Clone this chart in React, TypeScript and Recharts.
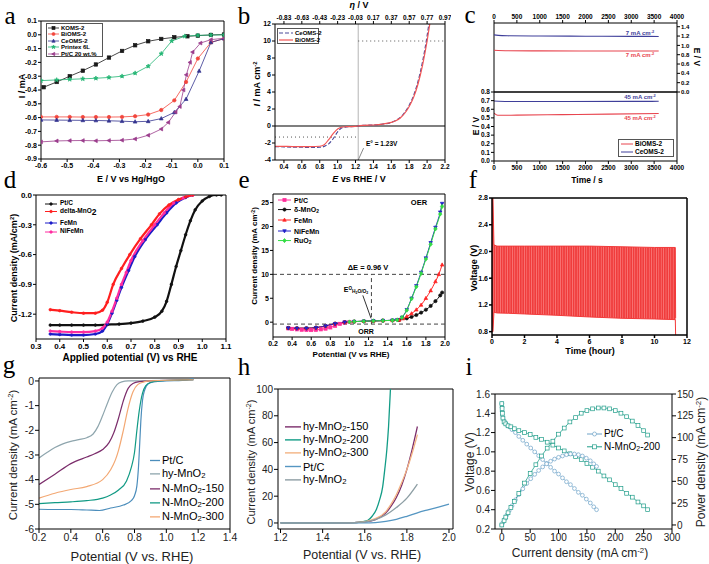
import React from "react";
import { Area, ComposedChart, Line, LineChart, ReferenceLine, XAxis, YAxis } from "recharts";

type Pt = [number, number];
type Shape = "square" | "circle" | "tri" | "triDown" | "triLeft" | "star" | "diamond";

const SANS = "'Liberation Sans', Arial, sans-serif";
const SERIF = "'Liberation Serif', 'Times New Roman', serif";

// ---------- a: ORR curves vs Hg/HgO
const aKoms: Pt[] = [[-0.59, -0.38], [-0.54, -0.342], [-0.49, -0.3], [-0.44, -0.26], [-0.39, -0.215], [-0.34, -0.165], [-0.29, -0.117], [-0.24, -0.076], [-0.19, -0.047], [-0.14, -0.03], [-0.09, -0.018], [-0.04, -0.011], [0, -0.006], [0.05, -0.001], [0.1, 0.002]];
const aBioms: Pt[] = [[-0.6, -0.595], [-0.54, -0.595], [-0.49, -0.595], [-0.44, -0.596], [-0.39, -0.596], [-0.34, -0.596], [-0.29, -0.595], [-0.24, -0.59], [-0.19, -0.578], [-0.14, -0.545], [-0.09, -0.475], [-0.045, -0.342], [0, -0.172], [0.05, -0.055], [0.1, -0.028]];
const aCeoms: Pt[] = [[-0.6, -0.617], [-0.54, -0.618], [-0.49, -0.619], [-0.44, -0.62], [-0.39, -0.621], [-0.34, -0.623], [-0.29, -0.626], [-0.24, -0.63], [-0.19, -0.627], [-0.14, -0.607], [-0.09, -0.562], [-0.045, -0.466], [0.005, -0.262], [0.05, -0.055], [0.1, -0.028]];
const aPrintex: Pt[] = [[-0.6, -0.332], [-0.54, -0.327], [-0.49, -0.323], [-0.44, -0.319], [-0.39, -0.315], [-0.34, -0.309], [-0.29, -0.3], [-0.24, -0.278], [-0.19, -0.228], [-0.14, -0.137], [-0.1, -0.045], [-0.05, -0.01], [0, -0.004], [0.05, -0.002], [0.1, -0.001]];
const aPtc: Pt[] = [[-0.6, -0.776], [-0.54, -0.769], [-0.49, -0.767], [-0.44, -0.766], [-0.39, -0.768], [-0.34, -0.766], [-0.29, -0.764], [-0.24, -0.755], [-0.19, -0.728], [-0.14, -0.683], [-0.113, -0.635], [-0.085, -0.56], [-0.069, -0.52], [-0.055, -0.4], [-0.044, -0.29], [-0.03, -0.2], [-0.02, -0.125], [0.01, -0.06], [0.05, -0.035], [0.1, -0.025]];
const aXTicks = [-0.6, -0.5, -0.4, -0.3, -0.2, -0.1, 0, 0.1];
const aYTicks = [0.1, 0, -0.1, -0.2, -0.3, -0.4, -0.5, -0.6, -0.7, -0.8, -0.9];

// ---------- b: bifunctional LSV vs RHE
const bBioms: Pt[] = [[0.3, -2.38], [0.4, -2.4], [0.5, -2.42], [0.6, -2.42], [0.7, -2.42], [0.8, -2.38], [0.85, -2.2], [0.9, -1.6], [0.95, -0.9], [1.0, -0.35], [1.05, -0.12], [1.1, -0.08], [1.2, -0.05], [1.25, 0.05], [1.3, 0.08], [1.4, 0.12], [1.5, 0.22], [1.6, 0.42], [1.65, 0.62], [1.7, 0.95], [1.75, 1.5], [1.8, 2.3], [1.85, 3.4], [1.9, 5.0], [1.95, 7.2], [2.0, 10.0], [2.03, 12]];
const bCeoms: Pt[] = [[0.3, -2.42], [0.4, -2.45], [0.5, -2.48], [0.6, -2.5], [0.7, -2.52], [0.8, -2.5], [0.85, -2.4], [0.9, -2.1], [0.95, -1.5], [1.0, -0.7], [1.05, -0.2], [1.1, -0.1], [1.2, -0.05], [1.25, 0.05], [1.3, 0.08], [1.4, 0.12], [1.5, 0.22], [1.6, 0.42], [1.65, 0.65], [1.7, 1.0], [1.75, 1.6], [1.8, 2.45], [1.85, 3.6], [1.9, 5.3], [1.95, 7.6], [2.0, 10.6], [2.02, 12]];
const bXTicks = [0.4, 0.6, 0.8, 1.0, 1.2, 1.4, 1.6, 1.8, 2.0, 2.2];
const bYTicks = [-4, -2, 0, 2, 4, 6, 8, 10, 12];
const E_REV = 1.23;

// ---------- c: chronopotentiometry
const cTopBi: Pt[] = [[0, 0.895], [300, 0.885], [1000, 0.882], [2000, 0.88], [3000, 0.879], [3600, 0.878]];
const cTopCe: Pt[] = [[0, 1.225], [300, 1.205], [1000, 1.2], [2000, 1.197], [3000, 1.194], [3600, 1.192]];
const cBotBi: Pt[] = [[0, 0.555], [80, 0.53], [500, 0.532], [1500, 0.538], [2500, 0.544], [3600, 0.55]];
const cBotCe: Pt[] = [[0, 0.695], [300, 0.69], [1500, 0.69], [3000, 0.691], [3600, 0.692]];
const cXTicks = [0, 500, 1000, 1500, 2000, 2500, 3000, 3500, 4000];
const cTopTicks = [0, 0.2, 0.4, 0.6, 0.8, 1.0, 1.2, 1.4];
const cBotTicks = [0, 0.1, 0.2, 0.3, 0.4, 0.5, 0.6, 0.7, 0.8];

// ---------- d: ORR of MnO2 catalysts
const dPtc: Pt[] = [[0.36, -1.31], [0.4, -1.31], [0.45, -1.31], [0.5, -1.31], [0.55, -1.31], [0.6, -1.305], [0.65, -1.3], [0.7, -1.29], [0.75, -1.27], [0.8, -1.23], [0.83, -1.17], [0.85, -1.07], [0.87, -0.9], [0.89, -0.72], [0.91, -0.56], [0.93, -0.4], [0.95, -0.26], [0.97, -0.15], [1.0, -0.06], [1.03, -0.015], [1.06, 0], [1.08, 0]];
const dDelta: Pt[] = [[0.36, -1.155], [0.4, -1.165], [0.45, -1.18], [0.5, -1.19], [0.55, -1.19], [0.58, -1.16], [0.6, -1.08], [0.625, -0.9], [0.66, -0.74], [0.695, -0.6], [0.74, -0.44], [0.786, -0.3], [0.82, -0.19], [0.86, -0.1], [0.9, -0.045], [0.93, -0.02], [0.96, 0]];
const dFemn: Pt[] = [[0.36, -1.4], [0.4, -1.405], [0.45, -1.41], [0.5, -1.41], [0.55, -1.4], [0.58, -1.37], [0.6, -1.3], [0.62, -1.19], [0.64, -1.06], [0.66, -0.93], [0.69, -0.76], [0.716, -0.62], [0.76, -0.45], [0.81, -0.3], [0.85, -0.18], [0.89, -0.08], [0.93, -0.025], [0.96, 0]];
const dNifemn: Pt[] = [[0.36, -1.37], [0.4, -1.375], [0.45, -1.38], [0.5, -1.38], [0.55, -1.37], [0.58, -1.34], [0.6, -1.28], [0.62, -1.17], [0.64, -1.04], [0.66, -0.9], [0.68, -0.78], [0.7, -0.66], [0.75, -0.46], [0.8, -0.3], [0.84, -0.18], [0.88, -0.08], [0.92, -0.03], [0.96, 0]];
const dXTicks = [0.3, 0.4, 0.5, 0.6, 0.7, 0.8, 0.9, 1.0, 1.1];
const dYTicks = [0, -0.3, -0.6, -0.9, -1.2];

// ---------- e: ORR + OER window
const ePtc: Pt[] = [[0.36, -1.3], [0.4, -1.4], [0.45, -1.5], [0.5, -1.58], [0.55, -1.63], [0.6, -1.65], [0.65, -1.6], [0.7, -1.5], [0.75, -1.35], [0.8, -1.1], [0.85, -0.75], [0.9, -0.35], [0.95, -0.08], [1.0, 0.05]];
const eDelta: Pt[] = [[0.36, -1.2], [0.45, -1.25], [0.55, -1.25], [0.65, -1.12], [0.75, -0.78], [0.85, -0.3], [0.95, 0], [1.05, 0.12], [1.15, 0.2], [1.25, 0.26], [1.35, 0.32], [1.45, 0.38], [1.52, 0.45], [1.6, 0.8], [1.65, 1.1], [1.7, 1.5], [1.75, 2.0], [1.8, 2.6], [1.85, 3.4], [1.9, 4.4], [1.95, 5.6], [1.97, 6.2]];
const eFemn: Pt[] = [[0.36, -1.22], [0.45, -1.27], [0.55, -1.27], [0.65, -1.15], [0.75, -0.8], [0.85, -0.32], [0.95, 0], [1.05, 0.12], [1.15, 0.2], [1.25, 0.26], [1.35, 0.32], [1.45, 0.38], [1.52, 0.48], [1.56, 0.75], [1.6, 1.2], [1.65, 1.8], [1.7, 2.6], [1.75, 3.6], [1.8, 5.0], [1.85, 6.6], [1.9, 8.5], [1.935, 10], [1.97, 12]];
const eNifemn: Pt[] = [[0.36, -1.25], [0.45, -1.3], [0.55, -1.3], [0.65, -1.18], [0.75, -0.82], [0.85, -0.33], [0.95, 0], [1.05, 0.12], [1.15, 0.2], [1.25, 0.27], [1.35, 0.33], [1.45, 0.4], [1.5, 0.5], [1.55, 1.0], [1.6, 2.6], [1.65, 5.0], [1.7, 7.6], [1.75, 10.4], [1.8, 13.4], [1.85, 16.6], [1.9, 19.8], [1.95, 23.0], [1.97, 24.8]];
const eRuo2: Pt[] = [[1.0, 0.05], [1.05, 0.12], [1.15, 0.2], [1.25, 0.26], [1.35, 0.32], [1.45, 0.38], [1.5, 0.48], [1.55, 1.0], [1.6, 2.5], [1.65, 4.9], [1.7, 7.4], [1.75, 10.2], [1.8, 13.2], [1.85, 16.3], [1.9, 19.5], [1.95, 22.6], [1.97, 24.2]];
const eXTicks = [0.2, 0.4, 0.6, 0.8, 1.0, 1.2, 1.4, 1.6, 1.8, 2.0];
const eYTicks = [0, 5, 10, 15, 20, 25];

// ---------- f: zinc-air cycling envelope
const fTime = [0, 0.06, 0.12, 0.3, 1, 2, 4, 6, 8, 10, 11.28, 11.3];
const fHigh = [2.8, 2.8, 2.1, 2.08, 2.08, 2.08, 2.08, 2.08, 2.07, 2.06, 2.06, 1.0];
const fLow = [0.8, 0.8, 1.09, 1.08, 1.075, 1.065, 1.045, 1.02, 1.0, 0.99, 0.98, 0.75];
const fXTicks = [0, 2, 4, 6, 8, 10, 12];
const fYTicks = [0.8, 1.2, 1.6, 2.0, 2.4, 2.8];

// ---------- g: ORR of N-MnO2
const gPtc: Pt[] = [[0.2, -5.2], [0.3, -5.21], [0.4, -5.21], [0.5, -5.23], [0.58, -5.25], [0.65, -5.15], [0.73, -5.03], [0.78, -4.85], [0.8, -4.65], [0.815, -4.25], [0.825, -3.5], [0.833, -2.5], [0.84, -1.6], [0.85, -0.8], [0.865, -0.35], [0.885, -0.12], [0.92, -0.04], [1.0, 0], [1.1, 0.02], [1.17, 0.1]];
const gHy: Pt[] = [[0.2, -3.12], [0.25, -2.9], [0.3, -2.7], [0.35, -2.55], [0.4, -2.45], [0.45, -2.38], [0.5, -2.3], [0.54, -2.15], [0.57, -1.85], [0.6, -1.4], [0.63, -0.9], [0.66, -0.45], [0.69, -0.15], [0.72, -0.04], [0.76, 0], [0.9, 0.01], [1.17, 0.05]];
const gN150: Pt[] = [[0.2, -4.2], [0.3, -3.78], [0.4, -3.35], [0.5, -3.08], [0.55, -2.95], [0.6, -2.78], [0.64, -2.5], [0.67, -2.1], [0.7, -1.5], [0.73, -0.8], [0.76, -0.3], [0.79, -0.1], [0.83, -0.03], [0.9, 0], [1.17, 0.05]];
const gN200: Pt[] = [[0.2, -4.97], [0.3, -4.93], [0.4, -4.9], [0.5, -4.85], [0.6, -4.75], [0.65, -4.62], [0.7, -4.42], [0.75, -4.05], [0.78, -3.5], [0.8, -2.9], [0.815, -2.0], [0.83, -1.2], [0.85, -0.5], [0.87, -0.2], [0.9, -0.06], [0.95, 0], [1.17, 0.05]];
const gN300: Pt[] = [[0.2, -4.75], [0.3, -4.55], [0.4, -4.4], [0.5, -4.28], [0.6, -4.0], [0.65, -3.6], [0.68, -3.2], [0.7, -2.8], [0.73, -2.0], [0.76, -1.1], [0.79, -0.45], [0.82, -0.15], [0.86, -0.04], [0.9, 0], [1.17, 0.05]];
const gXTicks = [0.2, 0.4, 0.6, 0.8, 1.0, 1.2, 1.4];
const gYTicks = [0, -1, -2, -3, -4, -5, -6];

// ---------- h: OER of hy-MnO2
const hH150: Pt[] = [[1.2, 0], [1.4, 0], [1.5, 0.1], [1.55, 0.3], [1.6, 0.8], [1.65, 2.5], [1.7, 7.5], [1.725, 12.5], [1.75, 19], [1.775, 28], [1.8, 40], [1.825, 55], [1.85, 72]];
const hH200: Pt[] = [[1.2, 0], [1.4, 0], [1.55, 0.2], [1.59, 1.0], [1.615, 2.0], [1.635, 5], [1.655, 10], [1.67, 17], [1.685, 27], [1.695, 40], [1.705, 55], [1.713, 72], [1.722, 100]];
const hH300: Pt[] = [[1.2, 0], [1.4, 0], [1.5, 0.1], [1.55, 0.3], [1.6, 1.0], [1.65, 3.2], [1.7, 8.5], [1.725, 14], [1.75, 21], [1.775, 30], [1.8, 40], [1.825, 52], [1.85, 66]];
const hPtc: Pt[] = [[1.2, 0], [1.4, 0], [1.6, 0.1], [1.65, 0.3], [1.7, 1.2], [1.75, 2.7], [1.8, 5.0], [1.85, 7.6], [1.9, 9.8], [1.95, 11.9], [2.0, 14]];
const hHy: Pt[] = [[1.2, 0], [1.4, 0], [1.55, 0.2], [1.6, 0.8], [1.65, 2.5], [1.7, 6], [1.75, 11.5], [1.8, 18.5], [1.85, 29]];
const hXTicks = [1.2, 1.4, 1.6, 1.8, 2.0];
const hYTicks = [0, 20, 40, 60, 80, 100];

// ---------- i: polarisation and power curves
const iPtcV: Pt[] = [[0, 1.5], [0.3, 1.46], [0.6, 1.42], [1, 1.38], [2, 1.35], [4, 1.32], [6, 1.3], [9, 1.28], [13, 1.26], [18, 1.23], [24, 1.2], [30, 1.16], [37, 1.12], [44, 1.08], [51, 1.04], [58, 1.0], [65, 0.96], [72, 0.92], [79, 0.88], [86, 0.84], [93, 0.8], [100, 0.77], [107, 0.73], [114, 0.69], [121, 0.66], [128, 0.62], [135, 0.58], [142, 0.55], [149, 0.51], [156, 0.47], [162, 0.43], [167, 0.4]];
const iPtcP: Pt[] = [[0, 0], [2, 2.7], [5, 6.6], [9, 11.5], [13, 16.4], [18, 22], [24, 28.8], [30, 34.8], [37, 41.4], [44, 47.5], [51, 53], [58, 58], [65, 62.4], [72, 66.5], [79, 70], [86, 73], [93, 75.5], [100, 77.5], [107, 79], [114, 80.5], [121, 81.3], [128, 81.3], [135, 80.5], [142, 79], [149, 76.5], [156, 73.5], [162, 70], [167, 67]];
const iNV: Pt[] = [[0, 1.5], [0.5, 1.45], [1, 1.4], [2, 1.35], [4, 1.31], [7, 1.29], [11, 1.27], [16, 1.26], [22, 1.24], [30, 1.22], [40, 1.2], [50, 1.18], [60, 1.15], [70, 1.13], [80, 1.1], [90, 1.07], [100, 1.04], [110, 1.01], [120, 0.98], [130, 0.95], [140, 0.92], [150, 0.88], [160, 0.84], [170, 0.8], [180, 0.75], [190, 0.71], [200, 0.66], [210, 0.62], [220, 0.57], [230, 0.53], [240, 0.48], [250, 0.44], [257, 0.4]];
const iNP: Pt[] = [[0, 0], [4, 5], [7, 9], [11, 14], [16, 20], [22, 27], [30, 36], [40, 48], [50, 59], [60, 69], [70, 79], [80, 88], [90, 96], [100, 104], [110, 111], [120, 118], [130, 123], [140, 128], [150, 131], [160, 133], [170, 134], [180, 134], [190, 133], [200, 131], [210, 128], [220, 124], [230, 119], [240, 114], [250, 108], [257, 103]];
const iXTicks = [0, 50, 100, 150, 200, 250, 300];
const iVTicks = [0.2, 0.4, 0.6, 0.8, 1.0, 1.2, 1.4, 1.6];
const iPTicks = [0, 25, 50, 75, 100, 125, 150];

// ---------------- helpers
const xy = (p: Pt[]) => p.map(([x, y]) => ({ x, y }));
const f1 = (v: number) => v.toFixed(1);

function Mark({ shape, cx, cy, r, color, fill }: any) {
  if (cx == null || cy == null) return null;
  const c = { fill: fill ?? color, stroke: color, strokeWidth: 0.7 };
  switch (shape as Shape) {
    case "square":
      return <rect x={cx - r} y={cy - r} width={2 * r} height={2 * r} {...c} />;
    case "circle":
      return <circle cx={cx} cy={cy} r={r} {...c} />;
    case "tri":
      return <polygon points={`${cx},${cy - r * 1.2} ${cx - r * 1.1},${cy + r * 0.8} ${cx + r * 1.1},${cy + r * 0.8}`} {...c} />;
    case "triDown":
      return <polygon points={`${cx},${cy + r * 1.2} ${cx - r * 1.1},${cy - r * 0.8} ${cx + r * 1.1},${cy - r * 0.8}`} {...c} />;
    case "triLeft":
      return <polygon points={`${cx - r * 1.2},${cy} ${cx + r * 0.8},${cy - r * 1.1} ${cx + r * 0.8},${cy + r * 1.1}`} {...c} />;
    case "diamond":
      return <polygon points={`${cx},${cy - r * 1.3} ${cx + r * 1.1},${cy} ${cx},${cy + r * 1.3} ${cx - r * 1.1},${cy}`} {...c} />;
    case "star": {
      const pts: string[] = [];
      for (let i = 0; i < 10; i++) {
        const a = -Math.PI / 2 + (i * Math.PI) / 5;
        const rr = i % 2 ? r * 0.55 : r * 1.35;
        pts.push(`${cx + rr * Math.cos(a)},${cy + rr * Math.sin(a)}`);
      }
      return <polygon points={pts.join(" ")} {...c} />;
    }
  }
  return null;
}

const dots = (shape: Shape, color: string, r: number, fill?: string) => (p: any) => (
  <Mark key={`m${p.index}`} shape={shape} cx={p.cx} cy={p.cy} r={r} color={color} fill={fill} />
);

type Series = {
  name: string; pts: Pt[]; color: string; shape?: Shape; r?: number; fill?: string;
  width?: number; dash?: string; xAxisId?: string | number; yAxisId?: string | number; curve?: "linear" | "monotone";
};

function lines(list: Series[]) {
  return list.map((s) => (
    <Line
      key={s.name + (s.yAxisId ?? "")}
      data={xy(s.pts)}
      dataKey="y"
      type={s.curve ?? "monotone"}
      stroke={s.color}
      strokeWidth={s.width ?? 1}
      strokeDasharray={s.dash}
      dot={s.shape ? dots(s.shape, s.color, s.r ?? 2, s.fill) : false}
      activeDot={false}
      xAxisId={s.xAxisId ?? 0}
      yAxisId={s.yAxisId ?? 0}
      isAnimationActive={false}
    />
  ));
}

const axis = (size: number, bold = true, sw = 1, ts = 3, color = "#000") => ({
  type: "number" as const,
  allowDataOverflow: true,
  interval: 0 as const,
  tickSize: ts,
  tickMargin: 1,
  tick: { fontSize: size, fontWeight: bold ? 700 : 400, fill: color, fontFamily: SANS },
  axisLine: { stroke: "#000", strokeWidth: sw },
  tickLine: { stroke: "#000", strokeWidth: sw },
});

const Sup = ({ children }: any) => <span style={{ fontSize: "0.65em", verticalAlign: "0.5em" }}>{children}</span>;
const Sub = ({ children }: any) => <span style={{ fontSize: "0.7em", verticalAlign: "-0.2em" }}>{children}</span>;

function Txt({ x, y, size = 9, bold = true, rot = 0, color = "#000", anchor = "middle", font = SANS, children }: any) {
  const tx = anchor === "middle" ? "-50%" : anchor === "end" ? "-100%" : "0";
  return (
    <div
      style={{
        position: "absolute", left: x, top: y, transform: `translate(${tx}, -50%) rotate(${rot}deg)`,
        fontSize: size, fontWeight: bold ? 700 : 400, fontFamily: font, color, whiteSpace: "nowrap", lineHeight: 1,
      }}
    >
      {children}
    </div>
  );
}

type Entry = { label: React.ReactNode; color: string; shape?: Shape; dash?: string; fill?: string; sw?: number };

function KeyList({ x, ys, items, lineW, size, bold = true, r = 1.8, gap = 2 }: any) {
  return (
    <>
      {(items as Entry[]).map((it, i) => (
        <div
          key={i}
          style={{
            position: "absolute", left: x, top: ys[i], transform: "translateY(-50%)", display: "flex", alignItems: "center",
            fontFamily: SANS, fontSize: size, fontWeight: bold ? 700 : 400, whiteSpace: "nowrap", lineHeight: 1,
          }}
        >
          <svg width={lineW} height={8} style={{ overflow: "visible", marginRight: gap }}>
            <line x1={0} y1={4} x2={lineW} y2={4} stroke={it.color} strokeWidth={it.sw ?? 1} strokeDasharray={it.dash} />
            {it.shape && <Mark shape={it.shape} cx={lineW / 2} cy={4} r={r} color={it.color} fill={it.fill} />}
          </svg>
          <span>{it.label}</span>
        </div>
      ))}
    </>
  );
}

const Frame = ({ x, y, w, h }: any) => (
  <div style={{ position: "absolute", left: x, top: y, width: w, height: h, border: "0.6px solid #555", boxSizing: "border-box" }} />
);

const at = (left: number, top: number): React.CSSProperties => ({ position: "absolute", left, top });

// ---------------- panels
const aSeries: Series[] = [
  { name: "KOMS-2", pts: aKoms, color: "#1a1a1a", shape: "square", curve: "linear" },
  { name: "BiOMS-2", pts: aBioms, color: "#f2463c", shape: "circle", curve: "linear" },
  { name: "CeOMS-2", pts: aCeoms, color: "#34348f", shape: "tri", curve: "linear" },
  { name: "Printex 6L", pts: aPrintex, color: "#22b573", shape: "star", curve: "linear" },
  { name: "Pt/C 20 wt.%", pts: aPtc, color: "#9b3c8c", shape: "triLeft", curve: "linear" },
];

function PanelA() {
  return (
    <div style={at(7, 17)}>
      <LineChart width={227} height={156} margin={{ top: 4, right: 10, bottom: 0, left: 0 }}>
        <XAxis {...axis(7)} dataKey="x" domain={[-0.6, 0.1]} ticks={aXTicks} tickFormatter={f1} height={14} />
        <YAxis {...axis(7)} domain={[-0.9, 0.1]} ticks={aYTicks} tickFormatter={f1} width={34} />
        <ReferenceLine y={0.1} stroke="#000" />
        <ReferenceLine x={0.1} stroke="#000" />
        {lines(aSeries.map((s) => ({ ...s, width: 0.8, r: 1.7 })))}
      </LineChart>
    </div>
  );
}

function PanelB() {
  return (
    <div style={at(253, 10)}>
      <LineChart width={198} height={164} margin={{ top: 0, right: 6, bottom: 0, left: 0 }}>
        <XAxis {...axis(6.5)} dataKey="x" domain={[0.3, 2.2]} ticks={bXTicks} tickFormatter={f1} height={14} />
        <XAxis
          {...axis(6.5)}
          xAxisId="eta"
          orientation="top"
          dataKey="x"
          domain={[0.3, 2.2]}
          ticks={bXTicks}
          tickFormatter={(v: number) => (v - E_REV).toFixed(2)}
          height={14}
        />
        <YAxis {...axis(7)} domain={[-4, 12]} ticks={bYTicks} width={22} />
        <ReferenceLine x={2.2} stroke="#000" />
        <ReferenceLine x={E_REV} stroke="#b5b5b5" />
        <ReferenceLine y={0} stroke="#000" strokeWidth={1.1} />
        <ReferenceLine segment={[{ x: E_REV, y: 10 }, { x: 2.2, y: 10 }]} stroke="#555" strokeDasharray="1 3" />
        <ReferenceLine segment={[{ x: 0.3, y: -1.3 }, { x: E_REV, y: -1.3 }]} stroke="#555" strokeDasharray="1 3" />
        <ReferenceLine segment={[{ x: E_REV, y: -4 }, { x: 1.29, y: -2.6 }]} stroke="#888" />
        {/* same domain on both x axes, so the dashed curve can sit on the eta axis */}
        {lines([
          { name: "CeOMS-2", pts: bCeoms, color: "#4b4b9a", dash: "4 2", width: 1.2, xAxisId: "eta" },
          { name: "BiOMS-2", pts: bBioms, color: "#f25555", width: 1.2 },
        ])}
      </LineChart>
    </div>
  );
}

function PanelC() {
  return (
    <>
      <div style={at(492, 9)}>
        <LineChart width={209} height={88} margin={{ top: 0, right: 0, bottom: 5, left: 2 }}>
          <XAxis {...axis(6.5)} xAxisId="top" orientation="top" dataKey="x" domain={[0, 4000]} ticks={cXTicks} height={14} />
          <YAxis {...axis(6)} yAxisId="r" orientation="right" domain={[0, 1.48]} ticks={cTopTicks} tickFormatter={f1} width={24} />
          <ReferenceLine xAxisId="top" yAxisId="r" x={0} stroke="#000" />
          {lines([
            { name: "BiOMS-2", pts: cTopBi, color: "#e8454f", xAxisId: "top", yAxisId: "r", width: 1.1 },
            { name: "CeOMS-2", pts: cTopCe, color: "#3f3f9a", xAxisId: "top", yAxisId: "r", width: 1.1 },
          ])}
        </LineChart>
      </div>
      <div style={at(470, 86)}>
        <LineChart width={217} height={89} margin={{ top: 6, right: 10, bottom: 0, left: 0 }}>
          <XAxis {...axis(6.5)} dataKey="x" domain={[0, 4000]} ticks={cXTicks} height={14} />
          <YAxis {...axis(6.5)} domain={[0, 0.8]} ticks={cBotTicks} tickFormatter={f1} width={24} />
          <ReferenceLine y={0.8} stroke="#000" strokeWidth={1.3} />
          <ReferenceLine x={4000} stroke="#000" />
          {lines([
            { name: "BiOMS-2", pts: cBotBi, color: "#e8454f", width: 1.1 },
            { name: "CeOMS-2", pts: cBotCe, color: "#3f3f9a", width: 1.1 },
          ])}
        </LineChart>
      </div>
    </>
  );
}

const dSeries: Series[] = [
  { name: "Pt/C", pts: dPtc, color: "#111111", shape: "circle" },
  { name: "FeMn", pts: dFemn, color: "#1c1cc8", shape: "circle" },
  { name: "NiFeMn", pts: dNifemn, color: "#ff2ca0", shape: "circle" },
  { name: "delta-MnO2", pts: dDelta, color: "#ff1f1f", shape: "circle" },
];

function PanelD() {
  return (
    <div style={at(8, 191)}>
      <LineChart width={228} height={162} margin={{ top: 4, right: 10, bottom: 0, left: 0 }}>
        <XAxis {...axis(8)} dataKey="x" domain={[0.3, 1.1]} ticks={dXTicks} tickFormatter={f1} height={14} />
        <YAxis {...axis(8)} domain={[-1.45, 0]} ticks={dYTicks} tickFormatter={f1} width={28} />
        <ReferenceLine y={0} stroke="#000" />
        <ReferenceLine x={1.1} stroke="#000" />
        {lines(dSeries.map((s) => ({ ...s, width: 2.2, r: 1.3 })))}
      </LineChart>
    </div>
  );
}

const eSeries: Series[] = [
  { name: "Pt/C", pts: ePtc, color: "#ff2f9a", shape: "square" },
  { name: "δ-MnO2", pts: eDelta, color: "#111111", shape: "circle" },
  { name: "FeMn", pts: eFemn, color: "#ff2525", shape: "tri" },
  { name: "NiFeMn", pts: eNifemn, color: "#2020c8", shape: "triDown" },
  { name: "RuO2", pts: eRuo2, color: "#33dd44", shape: "diamond" },
];

function PanelE() {
  return (
    <div style={at(253, 190)}>
      <LineChart width={202} height={161} margin={{ top: 4, right: 10, bottom: 0, left: 0 }}>
        <XAxis {...axis(7)} dataKey="x" domain={[0.2, 2.0]} ticks={eXTicks} tickFormatter={f1} height={14} />
        <YAxis {...axis(7)} domain={[-3.1, 26.8]} ticks={eYTicks} width={20} />
        <ReferenceLine y={26.8} stroke="#000" />
        <ReferenceLine x={2.0} stroke="#000" />
        <ReferenceLine y={10} stroke="#444" strokeDasharray="4 3" />
        <ReferenceLine y={-0.4} stroke="#444" strokeDasharray="4 3" />
        <ReferenceLine segment={[{ x: E_REV, y: -0.4 }, { x: E_REV, y: 10 }]} stroke="#444" strokeDasharray="4 3" />
        <ReferenceLine segment={[{ x: 1.14, y: 5.6 }, { x: 1.226, y: 0.8 }]} stroke="#333" />
        {lines(eSeries.map((s) => ({ ...s, width: 1, r: 1.6 })))}
      </LineChart>
    </div>
  );
}

const fTable = fTime.map((t, i) => ({ t, band: [fLow[i], fHigh[i]] }));

function PanelF() {
  return (
    <div style={at(472, 194)}>
      <ComposedChart data={fTable} width={225} height={154} margin={{ top: 4, right: 10, bottom: 0, left: 0 }}>
        <defs>
          <pattern id="cycles" width={2.4} height={4} patternUnits="userSpaceOnUse">
            <rect width={2.4} height={4} fill="#f03c3c" />
            <rect x={1.8} width={0.5} height={4} fill="#ff9a9a" />
          </pattern>
        </defs>
        <XAxis {...axis(7, true, 1.5)} dataKey="t" domain={[0, 12]} ticks={fXTicks} height={13} />
        <YAxis {...axis(7, true, 1.5)} domain={[0.75, 2.8]} ticks={fYTicks} tickFormatter={f1} width={20} />
        <ReferenceLine y={2.8} stroke="#000" strokeWidth={1.5} />
        <ReferenceLine x={12} stroke="#000" strokeWidth={1.5} />
        <Area dataKey="band" type="linear" stroke="#f23a3a" strokeWidth={1} fill="url(#cycles)" fillOpacity={1} isAnimationActive={false} />
      </ComposedChart>
    </div>
  );
}

const gSeries: Series[] = [
  { name: "Pt/C", pts: gPtc, color: "#4b8dbb" },
  { name: "hy-MnO2", pts: gHy, color: "#8ea5ad" },
  { name: "N-MnO2-150", pts: gN150, color: "#7b2d6b" },
  { name: "N-MnO2-200", pts: gN200, color: "#119a84" },
  { name: "N-MnO2-300", pts: gN300, color: "#f3a873" },
];

function PanelG() {
  return (
    <div style={at(9, 374)}>
      <LineChart width={233} height={173} margin={{ top: 4, right: 12, bottom: 0, left: 0 }}>
        <XAxis {...axis(10.5, false, 1, 4, "#222")} dataKey="x" domain={[0.2, 1.4]} ticks={gXTicks} tickFormatter={f1} height={18} />
        <YAxis {...axis(10.5, false, 1, 4, "#222")} domain={[-6, 0.12]} ticks={gYTicks} width={30} />
        <ReferenceLine y={0.12} stroke="#000" />
        <ReferenceLine x={1.4} stroke="#000" />
        {lines(gSeries.map((s) => ({ ...s, width: 1.2 })))}
      </LineChart>
    </div>
  );
}

const hSeries: Series[] = [
  { name: "hy-MnO2-150", pts: hH150, color: "#7b2d6b" },
  { name: "hy-MnO2-200", pts: hH200, color: "#129c86" },
  { name: "hy-MnO2-300", pts: hH300, color: "#f3b383" },
  { name: "Pt/C", pts: hPtc, color: "#5596c2" },
  { name: "hy-MnO2", pts: hHy, color: "#8d9ea4" },
];

function PanelH() {
  return (
    <div style={at(248, 385)}>
      <LineChart width={217} height={162} margin={{ top: 4, right: 12, bottom: 0, left: 0 }}>
        <XAxis {...axis(10, false, 1, 4, "#222")} dataKey="x" domain={[1.188, 2.019]} ticks={hXTicks} tickFormatter={f1} height={18} />
        <YAxis {...axis(10, false, 1, 4, "#222")} domain={[-4.5, 100]} ticks={hYTicks} width={30} />
        <ReferenceLine y={100} stroke="#000" />
        <ReferenceLine x={2.019} stroke="#000" />
        {lines(hSeries.map((s) => ({ ...s, width: 1.3 })))}
      </LineChart>
    </div>
  );
}

const iSeries: Series[] = [
  { name: "Pt/C", pts: iPtcV, color: "#6fa3c8", shape: "circle" },
  { name: "N-MnO2-200", pts: iNV, color: "#1f9d89", shape: "square" },
  { name: "Pt/C", pts: iPtcP, color: "#6fa3c8", shape: "circle", yAxisId: "p" },
  { name: "N-MnO2-200", pts: iNP, color: "#1f9d89", shape: "square", yAxisId: "p" },
];

function PanelI() {
  return (
    <div style={at(469, 390)}>
      <LineChart width={229} height={157} margin={{ top: 4, right: 0, bottom: 0, left: 0 }}>
        <XAxis {...axis(10, false, 1, 4, "#222")} dataKey="x" domain={[-12, 300]} ticks={iXTicks} height={18} />
        <YAxis {...axis(10, false, 1, 4, "#222")} domain={[0.2, 1.6]} ticks={iVTicks} tickFormatter={f1} width={26} />
        <YAxis {...axis(10, false, 1, 4, "#222")} yAxisId="p" orientation="right" domain={[-4.6, 150]} ticks={iPTicks} width={26} />
        <ReferenceLine y={1.6} stroke="#000" />
        {lines(iSeries.map((s) => ({ ...s, width: 0.8, r: 1.9, fill: "#fff" })))}
      </LineChart>
    </div>
  );
}

// ---------------- overlay text
function Labels() {
  const L = (x: number, y: number, ch: string) => (
    <Txt x={x} y={y} size={25} bold={false} font={SERIF}>{ch}</Txt>
  );
  return (
    <>
      {L(10, 15, "a")}{L(244, 15, "b")}{L(470, 14, "c")}
      {L(10, 179, "d")}{L(244, 179, "e")}{L(473, 179, "f")}
      {L(9, 364, "g")}{L(244, 366, "h")}{L(469, 366, "i")}

      {/* a */}
      <Txt x={131} y={179} size={9}>E / V vs Hg/HgO</Txt>
      <Txt x={22} y={86} size={9} rot={-90}>I / mA</Txt>
      <Frame x={46} y={23} w={57} h={34} />
      <KeyList
        x={48}
        ys={[27.5, 34, 40.5, 47, 53.5]}
        lineW={11}
        size={6}
        r={1.5}
        items={aSeries.map((s) => ({ label: s.name, color: s.color, shape: s.shape, sw: 0.8 }))}
      />

      {/* b */}
      <Txt x={359} y={5} size={9}><i>η</i> / V</Txt>
      <Txt x={359} y={179} size={9}><i>E</i> vs RHE / V</Txt>
      <Txt x={257} y={84} size={9} rot={-90}><i>I</i> / mA cm<Sup>-2</Sup></Txt>
      <Txt x={366} y={144} size={6.5} anchor="start">E° = 1.23V</Txt>
      <Frame x={277} y={28} w={42} h={16} />
      <KeyList
        x={279}
        ys={[32.5, 39.5]}
        lineW={14}
        size={6}
        items={[
          { label: "CeOMS-2", color: "#4b4b9a", dash: "4 2", sw: 1.2 },
          { label: "BiOMS-2", color: "#f25555", sw: 1.2 },
        ]}
      />

      {/* c */}
      <Txt x={587} y={180} size={8.5}>Time / s</Txt>
      <Txt x={476} y={126} size={8.5} rot={-90}>E / V</Txt>
      <Txt x={697} y={57} size={8.5} rot={90}>E / V</Txt>
      <Txt x={640} y={33} size={6} color="#3f3f9a">7 mA cm<Sup>-2</Sup></Txt>
      <Txt x={640} y={55} size={6} color="#e8454f">7 mA cm<Sup>-2</Sup></Txt>
      <Txt x={640} y={97} size={6} color="#3f3f9a">45 mA cm<Sup>-2</Sup></Txt>
      <Txt x={640} y={118} size={6} color="#e8454f">45 mA cm<Sup>-2</Sup></Txt>
      <Frame x={618} y={139} w={56} h={18} />
      <KeyList
        x={621}
        ys={[144, 152]}
        lineW={12}
        size={6.5}
        items={[
          { label: "BiOMS-2", color: "#e8454f" },
          { label: "CeOMS-2", color: "#3f3f9a" },
        ]}
      />

      {/* d */}
      <Txt x={130} y={358} size={10}>Applied potential (V) vs RHE</Txt>
      <Txt x={14} y={268} size={9} rot={-90}>Current density (mA/cm<Sup>2</Sup>)</Txt>
      <KeyList
        x={45}
        ys={[203.5, 211.5, 223, 231.5]}
        lineW={12}
        size={6.5}
        r={1.3}
        gap={3}
        items={[
          { label: "Pt/C", color: "#111111", shape: "circle" },
          { label: <>delta-MnO<span style={{ fontSize: "1.3em", verticalAlign: "-0.3em" }}>2</span></>, color: "#ff1f1f", shape: "circle" },
          { label: "FeMn", color: "#1c1cc8", shape: "circle" },
          { label: "NiFeMn", color: "#ff2ca0", shape: "circle" },
        ]}
      />

      {/* e */}
      <Txt x={351} y={355} size={8}>Potential (V vs RHE)</Txt>
      <Txt x={255} y={256} size={8} rot={-90}>Current density (mA cm<Sup>-2</Sup>)</Txt>
      <Txt x={419} y={203} size={7.5}>OER</Txt>
      <Txt x={366} y={331} size={7}>ORR</Txt>
      <Txt x={368} y={268} size={7.5}>ΔE = 0.96 V</Txt>
      <Txt x={356} y={291} size={7}>E<Sup>O</Sup><Sub>H<Sub>2</Sub>O/O<Sub>2</Sub></Sub></Txt>
      <KeyList
        x={278}
        ys={[200, 209.5, 220, 231, 241]}
        lineW={13}
        size={7}
        r={1.6}
        gap={3}
        items={[
          { label: "Pt/C", color: "#ff2f9a", shape: "square" },
          { label: <>δ-MnO<Sub>2</Sub></>, color: "#111111", shape: "circle" },
          { label: "FeMn", color: "#ff2525", shape: "tri" },
          { label: "NiFeMn", color: "#2020c8", shape: "triDown" },
          { label: <>RuO<Sub>2</Sub></>, color: "#33dd44", shape: "diamond" },
        ]}
      />

      {/* f */}
      <Txt x={590} y={351} size={9}>Time (hour)</Txt>
      <Txt x={474} y={268} size={9} rot={-90}>Voltage (V)</Txt>

      {/* g */}
      <Txt x={132} y={556} size={13} bold={false} color="#222">Potential (V vs. RHE)</Txt>
      <Txt x={13} y={455} size={11.5} bold={false} rot={-90} color="#222">Current density (mA cm<Sup>-2</Sup>)</Txt>
      <KeyList
        x={150}
        ys={[460, 474.3, 488.5, 502.5, 516.7]}
        lineW={10}
        size={11}
        bold={false}
        gap={2}
        items={gSeries.map((s) => ({
          label: s.name.includes("MnO2") ? <>{s.name.split("MnO2")[0]}MnO<Sub>2</Sub>{s.name.split("MnO2")[1]}</> : s.name,
          color: s.color,
          sw: 1.3,
        }))}
      />

      {/* h */}
      <Txt x={362} y={555} size={12.5} bold={false} color="#222">Potential (V vs. RHE)</Txt>
      <Txt x={251} y={462} size={11} bold={false} rot={-90} color="#222">Current density (mA cm<Sup>-2</Sup>)</Txt>
      <KeyList
        x={285}
        ys={[426.7, 440, 453.3, 466.7, 480]}
        lineW={16}
        size={11}
        bold={false}
        gap={2}
        items={hSeries.map((s) => ({
          label: s.name.includes("MnO2") ? <>{s.name.split("MnO2")[0]}MnO<Sub>2</Sub>{s.name.split("MnO2")[1]}</> : s.name,
          color: s.color,
          sw: 1.4,
        }))}
      />

      {/* i */}
      <Txt x={580} y={553} size={12} bold={false} color="#222">Current density (mA cm<Sup>-2</Sup>)</Txt>
      <Txt x={470} y={462} size={12} bold={false} rot={-90} color="#222">Voltage (V)</Txt>
      <Txt x={701} y={462} size={12} bold={false} rot={-90} color="#222">Power density (mA cm<Sup>-2</Sup>)</Txt>
      <KeyList
        x={587}
        ys={[434, 446.5]}
        lineW={15}
        size={10}
        bold={false}
        r={2}
        gap={2}
        items={[
          { label: "Pt/C", color: "#6fa3c8", shape: "circle", fill: "#fff" },
          { label: <>N-MnO<Sub>2</Sub>-200</>, color: "#1f9d89", shape: "square", fill: "#fff" },
        ]}
      />
    </>
  );
}

export default function App() {
  return (
    <div style={{ position: "absolute", left: 0, top: 0, width: 709, height: 564, background: "#fff", overflow: "hidden" }}>
      <style>{"body{margin:0}"}</style>
      <PanelA />
      <PanelB />
      <PanelC />
      <PanelD />
      <PanelE />
      <PanelF />
      <PanelG />
      <PanelH />
      <PanelI />
      <Labels />
    </div>
  );
}
